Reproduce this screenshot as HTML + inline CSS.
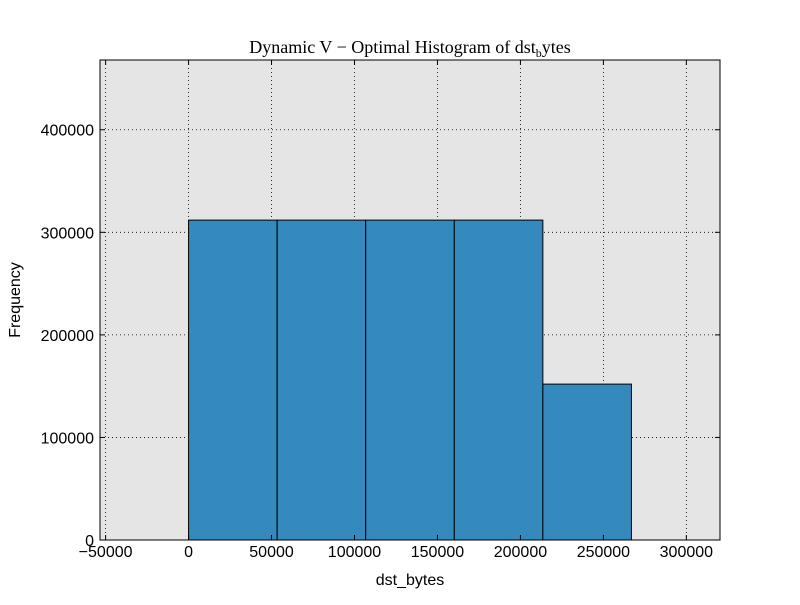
<!DOCTYPE html>
<html><head><meta charset="utf-8"><style>
body{margin:0;background:#fff;}
svg text{font-family:"Liberation Sans",sans-serif;}
</style></head><body>
<svg id="chart" width="800" height="600" viewBox="0 0 800 600" xmlns="http://www.w3.org/2000/svg">
<rect x="0" y="0" width="800" height="600" fill="#fff"/>
<rect x="100" y="60" width="620" height="480" fill="#e5e5e5"/>
<g id="grid"></g>
<g id="bars"></g>
<rect x="100" y="60" width="620" height="480" fill="none" stroke="#000" stroke-width="1"/>
<g id="ticks"></g>
<text x="410" y="53" text-anchor="middle" font-size="18" style="font-family:'Liberation Serif',serif">Dynamic V − Optimal Histogram of dst<tspan font-size="12" dy="4">b</tspan><tspan dy="-4">ytes</tspan></text>
<text x="410" y="585" text-anchor="middle" font-size="16">dst_bytes</text>
<text x="20" y="300" text-anchor="middle" font-size="16" transform="rotate(-90 20 300)">Frequency</text>
</svg>
<script>
const binEdges=[0,53380,106760,160140,213520,266900];
const counts=[311900,311900,311900,311900,152000];
const xTicks=[-50000,0,50000,100000,150000,200000,250000,300000];
const yTicks=[0,100000,200000,300000,400000];
const X0=100,X1=720,Y0=540,Y1=60,xmin=-53380,xmax=320280,ymin=0,ymax=468000;
const sx=v=>X0+(v-xmin)/(xmax-xmin)*(X1-X0);
const sy=v=>Y0-(v-ymin)/(ymax-ymin)*(Y0-Y1);
const NS="http://www.w3.org/2000/svg";
function mk(tag,attrs,parent){const e=document.createElementNS(NS,tag);for(const k in attrs)e.setAttribute(k,attrs[k]);document.getElementById(parent).appendChild(e);return e;}
xTicks.forEach(t=>{
 const x=sx(t);
 const g=mk('line',{x1:x,x2:x,y1:Y1,y2:Y0,stroke:'#000','stroke-dasharray':'1,3','stroke-width':0.8},'grid');
 
 
 mk('line',{x1:x,x2:x,y1:Y0,y2:Y0-5,stroke:'#000'},'ticks');
 mk('line',{x1:x,x2:x,y1:Y1,y2:Y1+5,stroke:'#000'},'ticks');
 const l=mk('text',{x:x,y:Y0+17,'text-anchor':'middle','font-size':16},'ticks');
 l.textContent=t<0?'−'+(-t):t;
 
 
});
yTicks.forEach(t=>{
 const y=sy(t);
 const g=mk('line',{x1:X0,x2:X1,y1:y,y2:y,stroke:'#000','stroke-dasharray':'1,3','stroke-width':0.8},'grid');
 
 
 mk('line',{x1:X0,x2:X0+5,y1:y,y2:y,stroke:'#000'},'ticks');
 mk('line',{x1:X1,x2:X1-5,y1:y,y2:y,stroke:'#000'},'ticks');
 const l=mk('text',{x:X0-6,y:y+6,'text-anchor':'end','font-size':16},'ticks');
 l.textContent=t;
 
 
});
counts.forEach((c,i)=>{
 const x=sx(binEdges[i]),w=sx(binEdges[i+1])-x,y=sy(c);
 const r=mk('rect',{x:x,y:y,width:w,height:Y0-y,fill:'#348abd',stroke:'#000','stroke-width':1},'bars');
 
 
});
</script>
</body></html>
